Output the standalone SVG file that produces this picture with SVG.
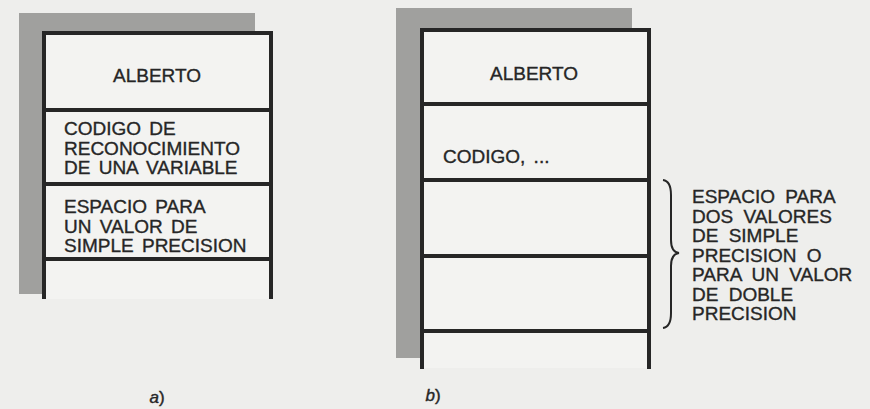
<svg xmlns="http://www.w3.org/2000/svg" width="870" height="409" viewBox="0 0 870 409">
<style>
.bg{fill:#eeeeec}
.shadow{fill:#a0a09e}
.cell{fill:#f3f3f1}
.frame{stroke:#262626;stroke-width:4;fill:none;stroke-linecap:butt}
.t{font-family:"Liberation Sans",Arial,sans-serif;font-size:19px;fill:#262626;stroke:#262626;stroke-width:0.35;word-spacing:3px}
.c{text-anchor:middle}
.lbl{font-family:"Liberation Sans",Arial,sans-serif;font-size:17px;fill:#262626;stroke:#262626;stroke-width:0.4;text-anchor:middle}
.brace{stroke:#262626;stroke-width:2;fill:none}
</style>
<rect class="bg" x="0" y="0" width="870" height="409"/>
<g id="panel-a">
  <rect class="shadow" x="19" y="13" width="236" height="281"/>
  <rect class="cell" x="44" y="35" width="227" height="225"/>
  <rect class="cell" x="44" y="260" width="227" height="39"/>
  <path class="frame" d="M44,299 V33 H271 V299 M44,110 H271 M44,184 H271 M44,259 H271"/>
  <text class="t c" x="157" y="82">ALBERTO</text>
  <text class="t"><tspan x="64" y="135">CODIGO DE</tspan><tspan x="64" y="155">RECONOCIMIENTO</tspan><tspan x="64" y="174">DE UNA VARIABLE</tspan></text>
  <text class="t"><tspan x="64" y="213">ESPACIO PARA</tspan><tspan x="64" y="233">UN VALOR DE</tspan><tspan x="64" y="252">SIMPLE PRECISION</tspan></text>
  <text class="lbl" x="157" y="403"><tspan font-style="italic">a</tspan>)</text>
</g>
<g id="panel-b">
  <rect class="shadow" x="396" y="8" width="236" height="350"/>
  <rect class="cell" x="421" y="32" width="229" height="336"/>
  <path class="frame" d="M422,369 V30 H649 V369 M422,104 H649 M422,180 H649 M422,256 H649 M422,331 H649"/>
  <text class="t c" x="534" y="80">ALBERTO</text>
  <text class="t" x="443" y="163">CODIGO, ...</text>
  <text class="lbl" x="433" y="401"><tspan font-style="italic">b</tspan>)</text>
</g>
<g id="connectors">
  <path class="brace" d="M663,180 Q671,181 671,195 L671,240 Q671,252 679,253 Q671,254 671,266 L671,313 Q671,327 663,328"/>
</g>
<g id="note">
  <text class="t" style="word-spacing:5px"><tspan x="692" y="203">ESPACIO PARA</tspan><tspan x="692" y="222.5">DOS VALORES</tspan><tspan x="692" y="242">DE SIMPLE</tspan><tspan x="692" y="261.5">PRECISION O</tspan><tspan x="692" y="281">PARA UN VALOR</tspan><tspan x="692" y="300.5">DE DOBLE</tspan><tspan x="692" y="320">PRECISION</tspan></text>
</g>
</svg>
